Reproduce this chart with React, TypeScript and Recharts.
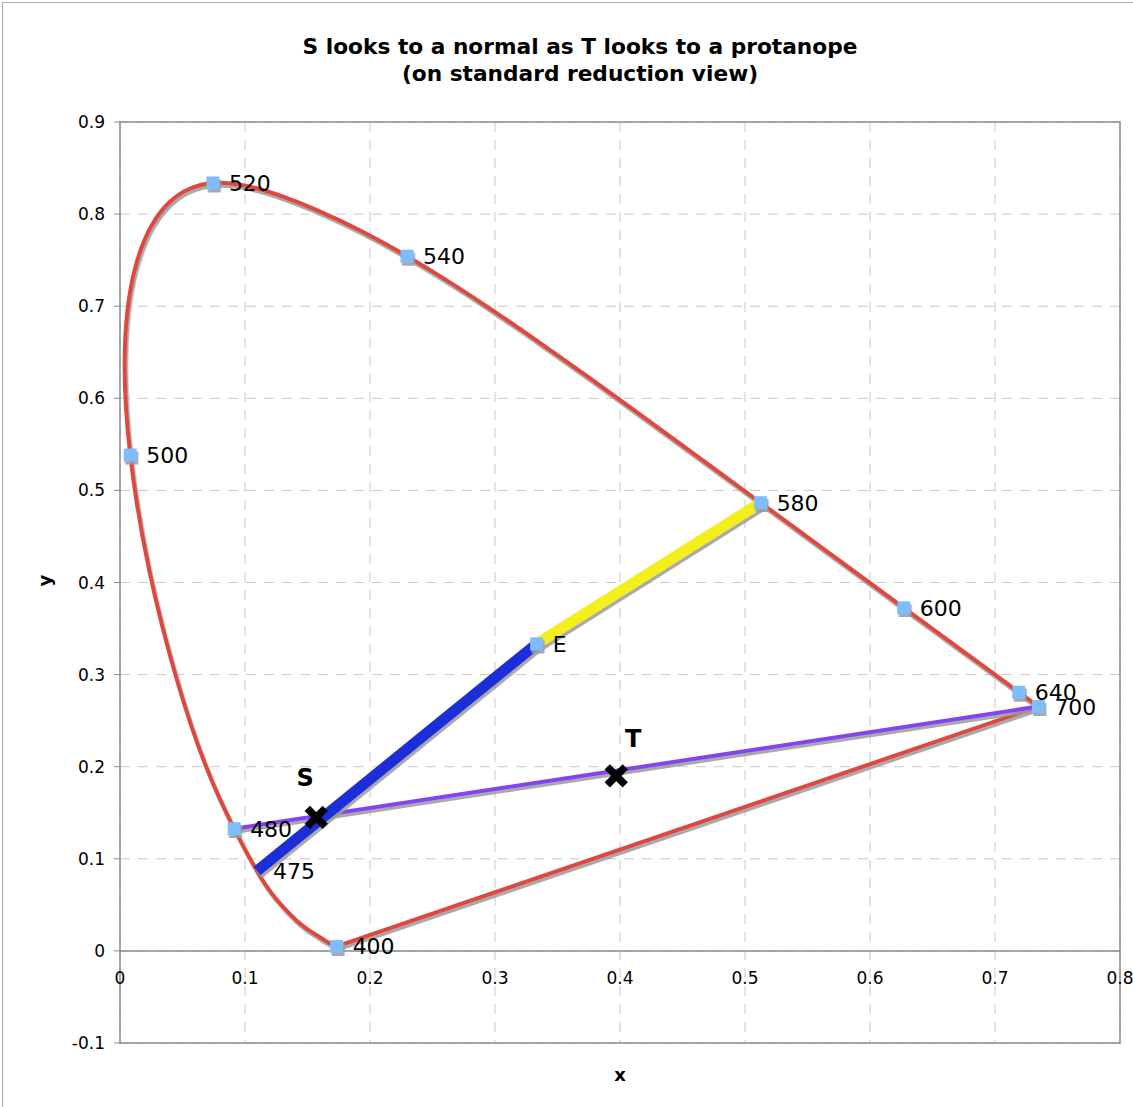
import React from "react";
import {
  ScatterChart,
  Scatter,
  XAxis,
  YAxis,
  CartesianGrid,
  ReferenceArea,
  ReferenceLine,
} from "recharts";

// CIE 1931 spectral locus (nm, x, y)
const spectralLocus = [
  { nm: 400, x: 0.1733, y: 0.0048 },
  { nm: 440, x: 0.1644, y: 0.0109 },
  { nm: 450, x: 0.1566, y: 0.0177 },
  { nm: 460, x: 0.144, y: 0.0297 },
  { nm: 470, x: 0.1241, y: 0.0578 },
  { nm: 475, x: 0.1096, y: 0.0868 },
  { nm: 480, x: 0.0913, y: 0.1327 },
  { nm: 485, x: 0.0687, y: 0.2007 },
  { nm: 490, x: 0.0454, y: 0.295 },
  { nm: 495, x: 0.0235, y: 0.4127 },
  { nm: 500, x: 0.0082, y: 0.5384 },
  { nm: 505, x: 0.0039, y: 0.6548 },
  { nm: 510, x: 0.0139, y: 0.7502 },
  { nm: 515, x: 0.0389, y: 0.812 },
  { nm: 520, x: 0.0743, y: 0.8338 },
  { nm: 525, x: 0.1142, y: 0.8262 },
  { nm: 530, x: 0.1547, y: 0.8059 },
  { nm: 535, x: 0.1929, y: 0.7816 },
  { nm: 540, x: 0.2296, y: 0.7543 },
  { nm: 545, x: 0.2658, y: 0.7243 },
  { nm: 550, x: 0.3016, y: 0.6923 },
  { nm: 555, x: 0.3373, y: 0.6589 },
  { nm: 560, x: 0.3731, y: 0.6245 },
  { nm: 565, x: 0.4087, y: 0.5896 },
  { nm: 570, x: 0.4441, y: 0.5547 },
  { nm: 575, x: 0.4788, y: 0.5202 },
  { nm: 580, x: 0.5125, y: 0.4866 },
  { nm: 585, x: 0.5448, y: 0.4544 },
  { nm: 590, x: 0.5752, y: 0.4242 },
  { nm: 595, x: 0.6029, y: 0.3965 },
  { nm: 600, x: 0.627, y: 0.3725 },
  { nm: 610, x: 0.6658, y: 0.334 },
  { nm: 620, x: 0.6915, y: 0.3083 },
  { nm: 630, x: 0.7079, y: 0.292 },
  { nm: 640, x: 0.719, y: 0.2809 },
  { nm: 660, x: 0.73, y: 0.27 },
  { nm: 700, x: 0.7347, y: 0.2653 },
];

const purpleBoundary = [
  { x: 0.7347, y: 0.2653 },
  { x: 0.1733, y: 0.0048 },
];

const blueSegment = [
  { x: 0.1096, y: 0.0868, label: "475" },
  { x: 0.3333, y: 0.3333, label: "" },
];

const yellowSegment = [
  { x: 0.3333, y: 0.3333 },
  { x: 0.5125, y: 0.4866 },
];

const confusionLine = [
  { x: 0.0913, y: 0.1327 },
  { x: 0.7347, y: 0.2653 },
];

const labelledPoints = [
  { x: 0.1733, y: 0.0048, label: "400" },
  { x: 0.0913, y: 0.1327, label: "480" },
  { x: 0.0082, y: 0.5384, label: "500" },
  { x: 0.0743, y: 0.8338, label: "520" },
  { x: 0.2296, y: 0.7543, label: "540" },
  { x: 0.5125, y: 0.4866, label: "580" },
  { x: 0.627, y: 0.3725, label: "600" },
  { x: 0.719, y: 0.2809, label: "640" },
  { x: 0.7347, y: 0.2653, label: "700" },
  { x: 0.3333, y: 0.3333, label: "E" },
];

const stimulusPoints = [
  { x: 0.157, y: 0.145, label: "S" },
  { x: 0.397, y: 0.19, label: "T" },
];

const xTicks = [0, 0.1, 0.2, 0.3, 0.4, 0.5, 0.6, 0.7, 0.8];
const yTicks = [-0.1, 0, 0.1, 0.2, 0.3, 0.4, 0.5, 0.6, 0.7, 0.8, 0.9];

const FONT = '"DejaVu Sans", Verdana, sans-serif';
const RED = "#e0463e";
const GRID = "#c8c8c8";
const FRAME = "#8c8c8c";
const ZERO_Y = 951; // pixel row of y = 0, where the x tick labels hang

const fmt = (v: number) => String(Math.round(v * 10) / 10);

const NoDot = () => <g />;

const XTick = ({ x, payload }: any) => (
  <text
    x={x}
    y={ZERO_Y + 33}
    textAnchor="middle"
    fontSize={17}
    fontFamily={FONT}
    fill="#000"
  >
    {fmt(payload.value)}
  </text>
);

const PointLabel = ({ cx, cy, text }: { cx: number; cy: number; text: string }) =>
  text ? (
    <text x={cx + 16} y={cy + 8} fontSize={22} fontFamily={FONT} fill="#000">
      {text}
    </text>
  ) : null;

const SquareMarker = (props: any) => {
  const { cx, cy, payload } = props;
  return (
    <g>
      <rect
        x={cx - 6.5}
        y={cy - 6.5}
        width={13}
        height={13}
        fill="#7fbcfb"
        filter="url(#dropShadow)"
      />
      <PointLabel cx={cx} cy={cy} text={payload.label} />
    </g>
  );
};

const EndLabel = (props: any) => (
  <PointLabel cx={props.cx} cy={props.cy} text={props.payload.label} />
);

const crossLabelOffset: Record<string, [number, number]> = {
  S: [-11, -31],
  T: [17, -29],
};

const CrossMarker = (props: any) => {
  const { cx, cy, payload } = props;
  const [dx, dy] = crossLabelOffset[payload.label] ?? [0, -30];
  const r = 9;
  return (
    <g>
      <path
        d={`M${cx - r},${cy - r}L${cx + r},${cy + r}M${cx + r},${cy - r}L${cx - r},${cy + r}`}
        stroke="#000"
        strokeWidth={7.5}
      />
      <text
        x={cx + dx}
        y={cy + dy}
        textAnchor="middle"
        fontSize={24}
        fontWeight="bold"
        fontFamily={FONT}
        fill="#000"
      >
        {payload.label}
      </text>
    </g>
  );
};

const lineStyle = (stroke: string, width: number) => ({
  stroke,
  strokeWidth: width,
  filter: "url(#dropShadow)",
});

export default function App() {
  return (
    <div
      style={{
        position: "absolute",
        top: 0,
        left: 0,
        width: 1133,
        height: 1107,
        overflow: "hidden",
        background: "#fff",
        fontFamily: FONT,
      }}
    >
      <div
        style={{
          position: "absolute",
          left: 2,
          top: 2,
          width: 1300,
          height: 1300,
          border: "1.5px solid #aaa",
          pointerEvents: "none",
        }}
      />
      <div
        style={{
          position: "absolute",
          left: 0,
          top: 33,
          width: 1160,
          textAlign: "center",
          fontWeight: "bold",
          fontSize: 21.7,
          lineHeight: "27px",
        }}
      >
        S looks to a normal as T looks to a protanope
        <br />
        (on standard reduction view)
      </div>
      <div
        style={{
          position: "absolute",
          left: 34,
          top: 570,
          width: 20,
          textAlign: "center",
          fontWeight: "bold",
          fontSize: 18,
          transform: "rotate(-90deg)",
        }}
      >
        y
      </div>
      <div
        style={{
          position: "absolute",
          left: 600,
          top: 1064,
          width: 40,
          textAlign: "center",
          fontWeight: "bold",
          fontSize: 18,
        }}
      >
        x
      </div>
      <ScatterChart
        width={1133}
        height={1107}
        margin={{ top: 122, right: 13, bottom: 0, left: 0 }}
        style={{ position: "absolute", left: 0, top: 0 }}
      >
        <defs>
          <filter id="dropShadow" x="-20%" y="-20%" width="140%" height="140%">
            <feDropShadow
              dx={1.5}
              dy={3}
              stdDeviation={0.7}
              floodColor="#9a9a9a"
              floodOpacity={0.85}
            />
          </filter>
        </defs>
        <CartesianGrid stroke={GRID} strokeDasharray="10 8" />
        <XAxis
          type="number"
          dataKey="x"
          domain={[0, 0.8]}
          ticks={xTicks}
          allowDataOverflow
          height={64}
          axisLine={false}
          tickLine={false}
          tick={<XTick />}
        />
        <YAxis
          type="number"
          dataKey="y"
          domain={[-0.1, 0.9]}
          ticks={yTicks}
          allowDataOverflow
          width={120}
          axisLine={false}
          tickLine={{ stroke: FRAME }}
          tickSize={6}
          tickMargin={9}
          tickFormatter={fmt}
          tick={{ fill: "#000", fontSize: 17, fontFamily: FONT }}
        />
        <ReferenceArea
          x1={0}
          x2={0.8}
          y1={-0.1}
          y2={0.9}
          fill="none"
          stroke={FRAME}
          strokeWidth={1.5}
        />
        <ReferenceLine y={0} stroke={FRAME} strokeWidth={1.5} />
        <Scatter
          data={spectralLocus}
          line={lineStyle(RED, 4)}
          lineJointType="natural"
          shape={NoDot}
          isAnimationActive={false}
        />
        <Scatter
          data={purpleBoundary}
          line={lineStyle(RED, 4)}
          shape={NoDot}
          isAnimationActive={false}
        />
        <Scatter
          data={confusionLine}
          line={lineStyle("#8442f0", 4)}
          shape={NoDot}
          isAnimationActive={false}
        />
        <Scatter
          data={blueSegment}
          line={lineStyle("#1f2fd8", 11)}
          shape={EndLabel}
          isAnimationActive={false}
        />
        <Scatter
          data={yellowSegment}
          line={lineStyle("#f3ee1c", 11)}
          shape={NoDot}
          isAnimationActive={false}
        />
        <Scatter
          data={labelledPoints}
          shape={SquareMarker}
          isAnimationActive={false}
        />
        <Scatter
          data={stimulusPoints}
          shape={CrossMarker}
          isAnimationActive={false}
        />
      </ScatterChart>
    </div>
  );
}
